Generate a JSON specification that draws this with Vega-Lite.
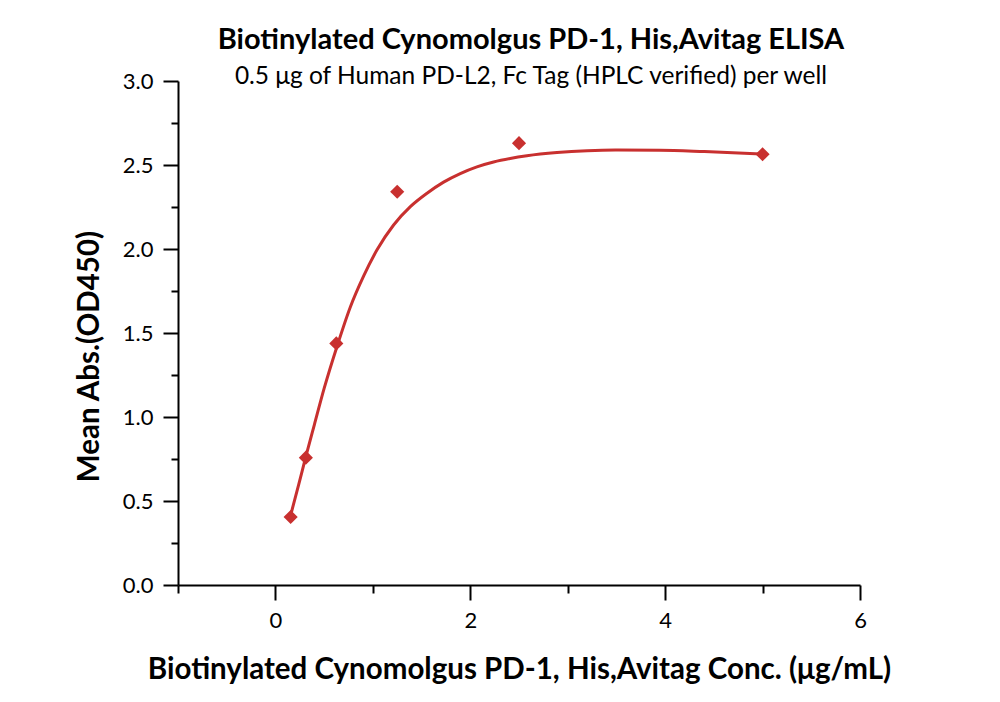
{
  "$schema": "https://vega.github.io/schema/vega-lite/v6.json",
  "width": 682,
  "height": 504,
  "autosize": {"type": "none"},
  "padding": {"left": 178, "top": 81, "right": 140, "bottom": 117},
  "background": "white",
  "config": {"view": {"stroke": null}, "font": "Lato"},
  "title": {
    "text": "Biotinylated Cynomolgus PD-1, His,Avitag ELISA",
    "subtitle": "0.5 μg of Human PD-L2, Fc Tag (HPLC verified) per well",
    "anchor": "middle",
    "frame": "group",
    "dx": 12,
    "offset": -18,
    "font": "Lato",
    "fontSize": 29,
    "fontWeight": "bold",
    "color": "black",
    "subtitleFont": "Lato",
    "subtitleFontSize": 24.5,
    "subtitleColor": "black",
    "subtitlePadding": 10
  },
  "datasets": {
    "points": [
      {"conc": 0.15625, "od": 0.405},
      {"conc": 0.3125, "od": 0.758},
      {"conc": 0.625, "od": 1.438},
      {"conc": 1.25, "od": 2.341},
      {"conc": 2.5, "od": 2.63},
      {"conc": 5.0, "od": 2.564}
    ],
    "fit": [
      {"conc": 0.156, "od": 0.415},
      {"conc": 0.24, "od": 0.6},
      {"conc": 0.3125, "od": 0.765},
      {"conc": 0.4, "od": 0.955},
      {"conc": 0.5, "od": 1.17},
      {"conc": 0.632, "od": 1.42},
      {"conc": 0.769, "od": 1.655},
      {"conc": 0.906, "od": 1.84},
      {"conc": 1.043, "od": 1.995},
      {"conc": 1.213, "od": 2.143},
      {"conc": 1.385, "od": 2.252},
      {"conc": 1.556, "od": 2.332},
      {"conc": 1.726, "od": 2.398},
      {"conc": 1.897, "od": 2.449},
      {"conc": 2.068, "od": 2.489},
      {"conc": 2.239, "od": 2.518},
      {"conc": 2.41, "od": 2.539},
      {"conc": 2.581, "od": 2.555},
      {"conc": 2.89, "od": 2.574},
      {"conc": 3.2, "od": 2.585},
      {"conc": 3.487, "od": 2.589},
      {"conc": 3.945, "od": 2.588},
      {"conc": 4.403, "od": 2.58},
      {"conc": 4.99, "od": 2.566}
    ]
  },
  "encoding": {
    "x": {
      "field": "conc",
      "type": "quantitative",
      "scale": {"domain": [-1, 6], "nice": false, "zero": false},
      "axis": {
        "title": "Biotinylated Cynomolgus PD-1, His,Avitag Conc. (μg/mL)",
        "values": [-1, 0, 1, 2, 3, 4, 5, 6],
        "labelExpr": "datum.value % 2 === 0 ? datum.label : ''",
        "grid": false,
        "domainColor": "black",
        "domainWidth": 2,
        "tickColor": "black",
        "tickWidth": 2,
        "tickSize": {"condition": {"test": "datum.value % 2 === 0", "value": 15}, "value": 8},
        "labelFont": "Lato",
        "labelFontSize": 22,
        "labelColor": "black",
        "labelPadding": 10,
        "labelFlush": false,
        "titleFont": "Lato",
        "titleFontSize": 29.5,
        "titleFontWeight": "bold",
        "titleColor": "black",
        "titlePadding": 24
      }
    },
    "y": {
      "field": "od",
      "type": "quantitative",
      "scale": {"domain": [0, 3], "nice": false},
      "axis": {
        "title": "Mean Abs.(OD450)",
        "values": [0, 0.25, 0.5, 0.75, 1, 1.25, 1.5, 1.75, 2, 2.25, 2.5, 2.75, 3],
        "labelExpr": "datum.value % 0.5 === 0 ? format(datum.value, '.1f') : ''",
        "grid": false,
        "domainColor": "black",
        "domainWidth": 2,
        "tickColor": "black",
        "tickWidth": 2,
        "tickSize": {"condition": {"test": "datum.value % 0.5 === 0", "value": 15}, "value": 7},
        "labelFont": "Lato",
        "labelFontSize": 22,
        "labelColor": "black",
        "labelPadding": 10,
        "labelFlush": false,
        "titleFont": "Lato",
        "titleFontSize": 29.5,
        "titleFontWeight": "bold",
        "titleColor": "black",
        "titlePadding": 18,
        "titleY": 275
      }
    }
  },
  "layer": [
    {
      "data": {"name": "fit"},
      "mark": {"type": "line", "color": "#c8302f", "strokeWidth": 3, "interpolate": "monotone"}
    },
    {
      "data": {"name": "points"},
      "mark": {"type": "point", "shape": "diamond", "filled": true, "color": "#c8302f", "opacity": 1, "size": 200}
    }
  ]
}
